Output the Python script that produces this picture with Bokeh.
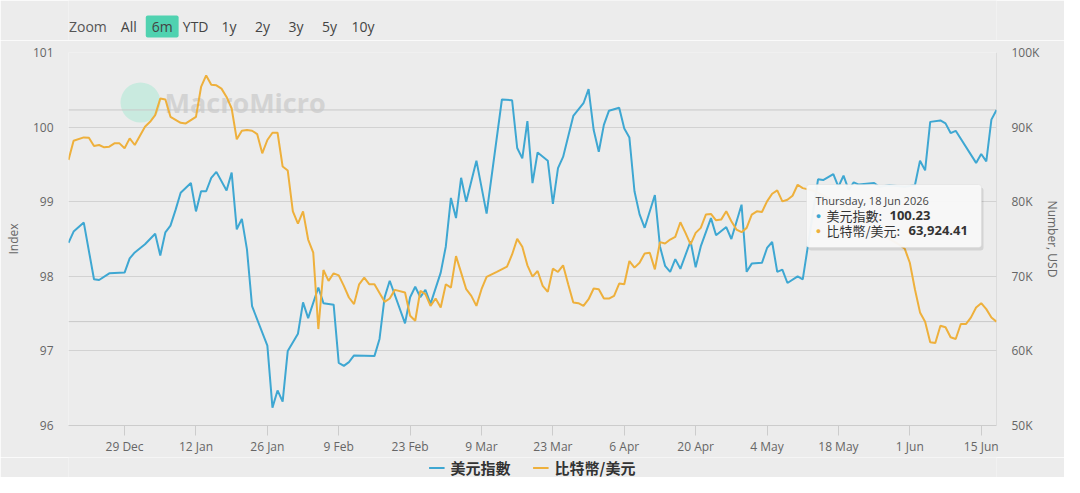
import pandas as pd
from bokeh.plotting import figure
from bokeh.layouts import column
from bokeh.models import (Range1d, LinearAxis, FixedTicker, Span, Label,
                          BoxAnnotation, Legend, LegendItem)
from bokeh.embed import file_html
from bokeh.resources import INLINE

# ---------------- data ----------------
series_names = ["美元指數", "比特幣/美元"]

dxy_dates = [
    "2025-12-18", "2025-12-19", "2025-12-21", "2025-12-23", "2025-12-24", "2025-12-26",
    "2025-12-29", "2025-12-30", "2025-12-31", "2026-01-02", "2026-01-04", "2026-01-05",
    "2026-01-06", "2026-01-07", "2026-01-08", "2026-01-09", "2026-01-11", "2026-01-12",
    "2026-01-13", "2026-01-14", "2026-01-15", "2026-01-16", "2026-01-18", "2026-01-19",
    "2026-01-20", "2026-01-21", "2026-01-22", "2026-01-23", "2026-01-26", "2026-01-27",
    "2026-01-28", "2026-01-29", "2026-01-30", "2026-02-01", "2026-02-02", "2026-02-03",
    "2026-02-05", "2026-02-06", "2026-02-08", "2026-02-09", "2026-02-10", "2026-02-11",
    "2026-02-12", "2026-02-16", "2026-02-17", "2026-02-18", "2026-02-19", "2026-02-22",
    "2026-02-23", "2026-02-24", "2026-02-25", "2026-02-26", "2026-02-27", "2026-03-01",
    "2026-03-02", "2026-03-03", "2026-03-04", "2026-03-05", "2026-03-06", "2026-03-08",
    "2026-03-10", "2026-03-13", "2026-03-15", "2026-03-16", "2026-03-17", "2026-03-18",
    "2026-03-19", "2026-03-20", "2026-03-22", "2026-03-23", "2026-03-24", "2026-03-25",
    "2026-03-27", "2026-03-29", "2026-03-30", "2026-03-31", "2026-04-01", "2026-04-02",
    "2026-04-03", "2026-04-05", "2026-04-06", "2026-04-07", "2026-04-08", "2026-04-09",
    "2026-04-10", "2026-04-12", "2026-04-13", "2026-04-14", "2026-04-15", "2026-04-16",
    "2026-04-17", "2026-04-19", "2026-04-20", "2026-04-21", "2026-04-23", "2026-04-24",
    "2026-04-26", "2026-04-27", "2026-04-29", "2026-04-30", "2026-05-01", "2026-05-03",
    "2026-05-04", "2026-05-05", "2026-05-06", "2026-05-07", "2026-05-08", "2026-05-10",
    "2026-05-11", "2026-05-12", "2026-05-13", "2026-05-14", "2026-05-15", "2026-05-17",
    "2026-05-18", "2026-05-19", "2026-05-20", "2026-05-21", "2026-05-22", "2026-05-25",
    "2026-05-26", "2026-05-28", "2026-05-31", "2026-06-02", "2026-06-03", "2026-06-04",
    "2026-06-05", "2026-06-07", "2026-06-08", "2026-06-09", "2026-06-10", "2026-06-14",
    "2026-06-15", "2026-06-16", "2026-06-17", "2026-06-18",
]
dxy_values = [
    98.45, 98.60, 98.72, 97.96, 97.95, 98.04,
    98.05, 98.24, 98.32, 98.43, 98.57, 98.28,
    98.59, 98.68, 98.89, 99.12, 99.25, 98.87,
    99.14, 99.14, 99.32, 99.40, 99.15, 99.39,
    98.63, 98.77, 98.36, 97.60, 97.07, 96.24,
    96.47, 96.32, 97.00, 97.23, 97.65, 97.44,
    97.85, 97.64, 97.62, 96.84, 96.80, 96.85,
    96.94, 96.93, 97.16, 97.72, 97.94, 97.37,
    97.72, 97.86, 97.72, 97.82, 97.63, 98.05,
    98.40, 99.05, 98.78, 99.32, 99.00, 99.55,
    98.84, 100.37, 100.36, 99.72, 99.58, 100.08,
    99.25, 99.66, 99.55, 98.97, 99.45, 99.60,
    100.15, 100.32, 100.51, 99.96, 99.67, 100.03,
    100.22, 100.26, 99.98, 99.86, 99.14, 98.83,
    98.65, 99.09, 98.40, 98.14, 98.06, 98.23,
    98.10, 98.47, 98.12, 98.40, 98.78, 98.55,
    98.66, 98.50, 98.96, 98.06, 98.17, 98.18,
    98.38, 98.46, 98.06, 98.09, 97.91, 98.00,
    97.96, 98.40, 98.85, 99.30, 99.29, 99.37,
    99.20, 99.35, 99.16, 99.26, 99.23, 99.25,
    99.20, 99.22, 99.20, 99.22, 99.55, 99.42,
    100.07, 100.09, 100.05, 99.92, 99.95, 99.52,
    99.64, 99.54, 100.10, 100.23,
]

btc_dates = [
    "2025-12-18", "2025-12-19", "2025-12-21", "2025-12-22", "2025-12-23", "2025-12-24",
    "2025-12-25", "2025-12-26", "2025-12-27", "2025-12-28", "2025-12-29", "2025-12-30",
    "2025-12-31", "2026-01-02", "2026-01-03", "2026-01-04", "2026-01-05", "2026-01-06",
    "2026-01-07", "2026-01-09", "2026-01-10", "2026-01-12", "2026-01-13", "2026-01-14",
    "2026-01-15", "2026-01-16", "2026-01-17", "2026-01-18", "2026-01-19", "2026-01-20",
    "2026-01-21", "2026-01-22", "2026-01-23", "2026-01-24", "2026-01-25", "2026-01-26",
    "2026-01-27", "2026-01-28", "2026-01-29", "2026-01-30", "2026-01-31", "2026-02-01",
    "2026-02-02", "2026-02-03", "2026-02-04", "2026-02-05", "2026-02-06", "2026-02-07",
    "2026-02-08", "2026-02-09", "2026-02-10", "2026-02-11", "2026-02-12", "2026-02-13",
    "2026-02-14", "2026-02-15", "2026-02-16", "2026-02-18", "2026-02-19", "2026-02-20",
    "2026-02-22", "2026-02-23", "2026-02-24", "2026-02-25", "2026-02-26", "2026-02-27",
    "2026-02-28", "2026-03-01", "2026-03-02", "2026-03-03", "2026-03-04", "2026-03-05",
    "2026-03-06", "2026-03-07", "2026-03-08", "2026-03-09", "2026-03-10", "2026-03-12",
    "2026-03-14", "2026-03-15", "2026-03-16", "2026-03-17", "2026-03-18", "2026-03-19",
    "2026-03-20", "2026-03-21", "2026-03-22", "2026-03-23", "2026-03-24", "2026-03-25",
    "2026-03-26", "2026-03-27", "2026-03-28", "2026-03-29", "2026-03-30", "2026-03-31",
    "2026-04-01", "2026-04-02", "2026-04-03", "2026-04-04", "2026-04-05", "2026-04-06",
    "2026-04-07", "2026-04-08", "2026-04-09", "2026-04-10", "2026-04-11", "2026-04-12",
    "2026-04-13", "2026-04-14", "2026-04-15", "2026-04-16", "2026-04-17", "2026-04-18",
    "2026-04-19", "2026-04-20", "2026-04-21", "2026-04-22", "2026-04-23", "2026-04-24",
    "2026-04-25", "2026-04-26", "2026-04-27", "2026-04-28", "2026-04-29", "2026-04-30",
    "2026-05-01", "2026-05-02", "2026-05-03", "2026-05-04", "2026-05-05", "2026-05-06",
    "2026-05-07", "2026-05-08", "2026-05-09", "2026-05-10", "2026-05-11", "2026-05-13",
    "2026-05-16", "2026-05-19", "2026-05-22", "2026-05-25", "2026-05-28", "2026-05-30",
    "2026-05-31", "2026-06-01", "2026-06-02", "2026-06-03", "2026-06-04", "2026-06-05",
    "2026-06-06", "2026-06-07", "2026-06-08", "2026-06-09", "2026-06-10", "2026-06-11",
    "2026-06-12", "2026-06-13", "2026-06-14", "2026-06-15", "2026-06-16", "2026-06-17",
    "2026-06-18",
]
btc_values = [
    85600, 88180, 88620, 88580, 87470, 87600,
    87290, 87380, 87820, 87820, 87160, 88490,
    87600, 90040, 90710, 91600, 93820, 93690,
    91380, 90580, 90490, 91380, 95380, 96930,
    95690, 95600, 95160, 94040, 92490, 88360,
    89510, 89600, 89510, 89070, 86490, 88270,
    89240, 89240, 84710, 84180, 78710, 77070,
    78710, 74930, 73160, 62930, 70840, 69380,
    70400, 70130, 68710, 67160, 66270, 68930,
    69820, 68930, 68930, 66580, 67020, 68180,
    67820, 64710, 64040, 68040, 67600, 66040,
    67020, 65820, 68930, 68490, 72710, 70490,
    68270, 67380, 66040, 68270, 69910, 70580,
    71290, 72930, 75020, 73960, 71470, 69960,
    70710, 68710, 67910, 71020, 70580, 71470,
    68930, 66490, 66400, 66040, 66930, 68360,
    68270, 67020, 67020, 67380, 69020, 68930,
    72040, 71160, 71820, 73070, 73160, 70930,
    74580, 74400, 74930, 75290, 77240, 75820,
    74270, 75820, 76490, 78270, 78360, 77510,
    77600, 78710, 77380, 76270, 75910, 76490,
    78270, 78710, 78620, 80040, 81070, 81510,
    80040, 80270, 80800, 82270, 81820, 81500,
    80500, 79500, 78000, 76500, 75000, 74200,
    73700, 71820, 68270, 65160, 63910, 61160,
    61070, 63380, 63160, 61820, 61600, 63600,
    63600, 64490, 65820, 66400, 65600, 64490,
    63924.41,
]

x_tick_dates = ["2025-12-29", "2026-01-12", "2026-01-26", "2026-02-09", "2026-02-23",
                "2026-03-09", "2026-03-23", "2026-04-06", "2026-04-20", "2026-05-04",
                "2026-05-18", "2026-06-01", "2026-06-15"]
x_tick_labels = ["29 Dec", "12 Jan", "26 Jan", "9 Feb", "23 Feb", "9 Mar", "23 Mar",
                 "6 Apr", "20 Apr", "4 May", "18 May", "1 Jun", "15 Jun"]
left_ticks = [96, 97, 98, 99, 100, 101]
right_ticks = [50000, 60000, 70000, 80000, 90000, 100000]
right_tick_labels = ["50K", "60K", "70K", "80K", "90K", "100K"]
range_buttons = ["All", "6m", "YTD", "1y", "2y", "3y", "5y", "10y"]
selected_button = "6m"

# ---------------- style ----------------
BG = "#ececec"
BLUE = "#3ea7d2"
ORANGE = "#eeb03c"
GRID = "#d2d2d2"
CROSS = "#c8c8c8"
TEAL = "#50d2b0"
LATIN = "Open Sans"
CJK = "Noto Sans CJK TC"

W = 1064
HDR_H = 40
MAIN_H = 417
FOOT_H = 20
FRAME_L, FRAME_R, FRAME_T, FRAME_B = 68, 1000, 52, 427

# page-pixel -> frame-relative screen units
def sx(X):
    return X - FRAME_L

def sy(Y):
    return FRAME_B - Y

def ms(d):
    return int(pd.Timestamp(d).value // 10**6)

def strip(height, y_range):
    f = figure(width=W, height=height, x_range=Range1d(FRAME_L, FRAME_R), y_range=y_range,
               output_backend="svg", toolbar_location=None, min_border=0,
               x_axis_location=None, y_axis_location=None,
               background_fill_color=BG, border_fill_color=BG, outline_line_color=None)
    f.grid.visible = False
    return f

# ---------------- header (range selector) ----------------
hdr = strip(HDR_H, Range1d(HDR_H, 0))
hdr.add_layout(Label(x=87.5, y=26, text="Zoom", text_font=LATIN, text_font_size="14px",
                     text_color="#555555", text_align="center", text_baseline="middle"))
for i, b in enumerate(range_buttons):
    cx = 128.5 + 33.6 * i
    if b == selected_button:
        hdr.add_layout(BoxAnnotation(left=cx - 16.5, right=cx + 16.5, top=15, bottom=37,
                                     fill_color=TEAL, fill_alpha=1.0, line_alpha=0,
                                     border_radius=2))
    hdr.add_layout(Label(x=cx, y=26, text=b, text_font=LATIN, text_font_size="14px",
                         text_color="#444444", text_align="center", text_baseline="middle"))

# ---------------- main chart ----------------
dxy_x = pd.to_datetime(dxy_dates)
btc_x = pd.to_datetime(btc_dates)

p = figure(width=W, height=MAIN_H, x_axis_type="datetime",
           x_range=Range1d(pd.Timestamp(dxy_dates[0]), pd.Timestamp(dxy_dates[-1])),
           y_range=Range1d(96, 101),
           output_backend="svg", toolbar_location=None,
           min_border_left=FRAME_L, min_border_right=W - FRAME_R,
           min_border_top=FRAME_T - HDR_H, min_border_bottom=HDR_H + MAIN_H - FRAME_B,
           background_fill_color=BG, border_fill_color=BG, outline_line_color=None)
p.extra_y_ranges = {"btc": Range1d(50000, 100000)}

# watermark
p.add_layout(BoxAnnotation(left=sx(120), right=sx(160), top=sy(84), bottom=sy(124),
                           left_units="screen", right_units="screen",
                           top_units="screen", bottom_units="screen",
                           fill_color="#c9eadf", fill_alpha=1.0, line_alpha=0,
                           border_radius=20, level="underlay"))
p.add_layout(Label(x=sx(164), y=sy(104), x_units="screen", y_units="screen",
                   text="MacroMicro", text_font=LATIN, text_font_size="27px",
                   text_font_style="bold", text_color="#d3d3d3",
                   text_baseline="middle", text_align="left", level="underlay"))

# crosshair lines at the hovered (last) point
p.add_layout(Span(location=dxy_values[-1], dimension="width", line_color=CROSS,
                  line_width=1, level="underlay"))
p.add_layout(Span(location=btc_values[-1], dimension="width", line_color=CROSS,
                  line_width=1, y_range_name="btc", level="underlay"))
p.add_layout(Span(location=ms(dxy_dates[-1]), dimension="height", line_color=CROSS,
                  line_width=1, level="underlay"))

r_dxy = p.line(dxy_x, dxy_values, line_color=BLUE, line_width=2)
r_btc = p.line(btc_x, btc_values, line_color=ORANGE, line_width=2, y_range_name="btc")

# grid
p.xgrid.visible = False
p.ygrid.ticker = FixedTicker(ticks=left_ticks)
p.ygrid.grid_line_color = GRID
p.ygrid.grid_line_width = 1

# x axis
x_ticks_ms = [ms(d) for d in x_tick_dates]
xa = p.xaxis[0]
xa.ticker = FixedTicker(ticks=x_ticks_ms)
xa.major_label_overrides = dict(zip(x_ticks_ms, x_tick_labels))
xa.axis_line_color = "#cccccc"
xa.major_tick_line_color = "#cccccc"
xa.major_tick_in = 0
xa.major_tick_out = 10
xa.minor_tick_line_color = None
xa.major_label_standoff = 2
xa.major_label_text_font = LATIN
xa.major_label_text_font_size = "12px"
xa.major_label_text_color = "#666666"

# left axis
ya = p.yaxis[0]
ya.ticker = FixedTicker(ticks=left_ticks)
ya.axis_line_color = None
ya.major_tick_line_color = None
ya.minor_tick_line_color = None
ya.major_tick_in = 0
ya.major_tick_out = 0
ya.major_label_standoff = 15
ya.major_label_text_font = LATIN
ya.major_label_text_font_size = "12px"
ya.major_label_text_color = "#666666"
ya.axis_label = "Index"
ya.axis_label_standoff = 8
ya.axis_label_text_font = LATIN
ya.axis_label_text_font_size = "12px"
ya.axis_label_text_font_style = "normal"
ya.axis_label_text_color = "#666666"

# right axis
ra = LinearAxis(y_range_name="btc", ticker=FixedTicker(ticks=right_ticks),
                major_label_overrides=dict(zip(right_ticks, right_tick_labels)))
ra.axis_line_color = None
ra.major_tick_line_color = None
ra.minor_tick_line_color = None
ra.major_tick_in = 0
ra.major_tick_out = 0
ra.major_label_standoff = 15
ra.major_label_text_font = LATIN
ra.major_label_text_font_size = "12px"
ra.major_label_text_color = "#666666"
ra.axis_label = "Number, USD"
ra.axis_label_standoff = 2
ra.axis_label_text_font = LATIN
ra.axis_label_text_font_size = "12px"
ra.axis_label_text_font_style = "normal"
ra.axis_label_text_color = "#666666"
p.add_layout(ra, "right")

# tooltip
tip_l, tip_r, tip_t, tip_b = 806, 981, 186, 249
p.add_layout(BoxAnnotation(left=sx(tip_l + 2), right=sx(tip_r + 2), top=sy(tip_t + 3),
                           bottom=sy(tip_b + 3),
                           left_units="screen", right_units="screen",
                           top_units="screen", bottom_units="screen",
                           fill_color="#000000", fill_alpha=0.10, line_alpha=0,
                           border_radius=3))
p.add_layout(BoxAnnotation(left=sx(tip_l), right=sx(tip_r), top=sy(tip_t), bottom=sy(tip_b),
                           left_units="screen", right_units="screen",
                           top_units="screen", bottom_units="screen",
                           fill_color="#f8f8f8", fill_alpha=0.96, line_color="#d0d0d0",
                           line_width=1, border_radius=3))
last_date_text = pd.Timestamp(dxy_dates[-1]).strftime("%A, %d %b %Y")
p.add_layout(Label(x=sx(815), y=sy(202), x_units="screen", y_units="screen",
                   text=last_date_text, text_font=LATIN, text_font_size="11px",
                   text_color="#444444", text_baseline="middle"))
rows = [(217, BLUE, series_names[0] + ": ", f"{dxy_values[-1]:.2f}", 889),
        (232, ORANGE, series_names[1] + ": ", f"{btc_values[-1]:,.2f}", 908)]
for yy, col, name, val, vx in rows:
    p.add_layout(Label(x=sx(818), y=sy(yy), x_units="screen", y_units="screen",
                       text="●", text_font=LATIN, text_font_size="9px", text_color=col,
                       text_align="center", text_baseline="middle"))
    p.add_layout(Label(x=sx(826), y=sy(yy), x_units="screen", y_units="screen",
                       text=name, text_font=CJK, text_font_size="13px",
                       text_color="#333333", text_baseline="middle"))
    p.add_layout(Label(x=sx(vx), y=sy(yy), x_units="screen", y_units="screen",
                       text=val, text_font=LATIN, text_font_size="13px",
                       text_font_style="bold", text_color="#333333",
                       text_baseline="middle"))

# ---------------- footer (legend) ----------------
# the same series are drawn here only to provide legend keys; their dates lie far
# outside this strip's range, so only the legend shows
foot = strip(FOOT_H, Range1d(0, 1))
k_dxy = foot.line(dxy_x, dxy_values, line_color=BLUE, line_width=2)
k_btc = foot.line(btc_x, btc_values, line_color=ORANGE, line_width=2)
legend = Legend(items=[LegendItem(label=series_names[0], renderers=[k_dxy]),
                       LegendItem(label=series_names[1], renderers=[k_btc])],
                location="center", orientation="horizontal",
                margin=0, padding=0, spacing=22, glyph_width=16, glyph_height=16,
                label_standoff=6, label_height=16,
                label_text_font=CJK, label_text_font_size="15px",
                label_text_font_style="bold", label_text_color="#333333",
                background_fill_alpha=0, border_line_alpha=0)
foot.add_layout(legend)

page = column(hdr, p, foot, spacing=0)
open("out.html", "w").write(file_html(page, INLINE))
